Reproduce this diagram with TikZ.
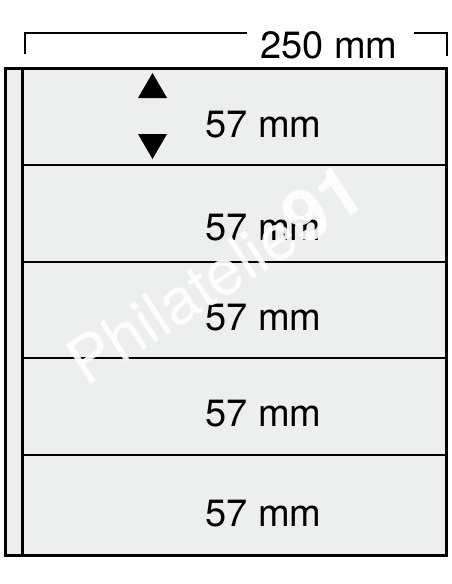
\documentclass[tikz,border=0pt]{standalone}
\usepackage{fontspec}
\setmainfont{TeX Gyre Heros}
\begin{document}
\begin{tikzpicture}[x=1pt,y=-1pt,
  sheet/.style={fill=sheetgray},
  border/.style={line width=3pt,line join=miter},
  divider/.style={line width=1.5pt},
  dimline/.style={line width=1.4pt},
  lbl/.style={anchor=base,inner sep=0pt,font=\fontsize{38}{40}\selectfont},
  tri/.style={fill=black}]
\definecolor{sheetgray}{HTML}{EDEEEE}
\useasboundingbox[fill=white] (0,0) rectangle (452,584);
% sheet
\fill[sheet] (5,68) rectangle (446,555);
% dividers
\coordinate (d1l) at (22,165); \coordinate (d1r) at (447,165);
\coordinate (d2l) at (22,262); \coordinate (d2r) at (447,262);
\coordinate (d3l) at (22,358); \coordinate (d3r) at (447,358);
\coordinate (d4l) at (22,455); \coordinate (d4r) at (447,455);
\draw[divider] (d1l) -- (d1r);
\draw[divider] (d2l) -- (d2r);
\draw[divider] (d3l) -- (d3r);
\draw[divider] (d4l) -- (d4r);
% border and binding strip
\draw[border] (5,68) rectangle (446,555);
\coordinate (bt) at (22,68); \coordinate (bb) at (22,555);
\draw[border] (bt) -- (bb);
% dimension line
\node[lbl] (w) at (329,58) {250 mm};
\coordinate (dl0) at (25,54); \coordinate (dl1) at (25,33); \coordinate (dl2) at (247,33);
\coordinate (dr0) at (414,33); \coordinate (dr1) at (447,33); \coordinate (dr2) at (447,56);
\draw[dimline] (dl0) -- (dl1) -- (dl2);
\draw[dimline] (dr0) -- (dr1) -- (dr2);
% triangles
\fill[tri] (138,98) -- (152.5,73) -- (167,98) -- cycle;
\fill[tri] (138,134) -- (152.5,159) -- (167,134) -- cycle;
% row labels
\node[lbl] (r1) at (263.5,137) {57 mm};
\node[lbl] (r2) at (263.5,240) {57 mm};
\node[lbl] (r3) at (263.5,330) {57 mm};
\node[lbl] (r4) at (263.5,426) {57 mm};
\node[lbl] (r5) at (263.5,526) {57 mm};
% watermark
\node[anchor=base west,inner sep=0pt,rotate=33,text=white,opacity=0.9,
      font=\fontsize{64}{70}\selectfont] (wm) at (86,388) {Philatelie{\fontsize{72}{76}\selectfont\bfseries 91}};
\end{tikzpicture}
\end{document}
